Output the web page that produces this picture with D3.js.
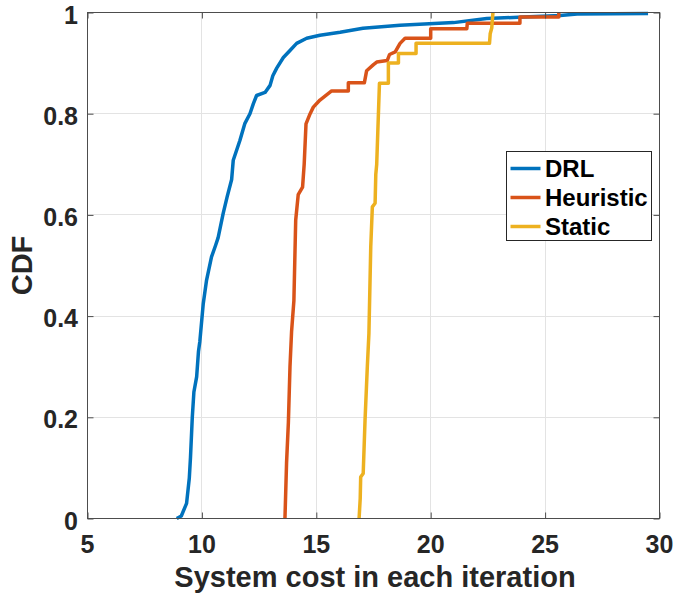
<!doctype html>
<html>

<head>
  <meta charset="utf-8">
  <title>CDF of system cost</title>
  <style>
    body {
      margin: 0;
      background: #fff;
    }
    #chart text {
      font-family: "Liberation Sans", Arial, sans-serif;
      font-weight: bold;
      fill: #262626;
    }
  </style>
</head>

<body>
  <div id="chart"></div>
  <script src="https://cdn.jsdelivr.net/npm/d3@7"></script>
  <script>
    // [cost, cdf] points
    const drl = [
      [8.9, 0], [9.1, 0.005], [9.33, 0.03], [9.45, 0.08], [9.5, 0.12], [9.58, 0.2],
      [9.65, 0.25], [9.77, 0.28], [9.85, 0.33], [9.91, 0.35], [10.06, 0.425], [10.2, 0.47],
      [10.42, 0.517], [10.6, 0.54], [10.71, 0.555], [10.93, 0.603], [11.1, 0.635], [11.3, 0.67],
      [11.37, 0.708], [11.66, 0.747], [11.88, 0.781], [12.1, 0.8], [12.25, 0.82], [12.39, 0.836],
      [12.76, 0.842], [12.98, 0.856], [13.1, 0.875], [13.27, 0.89], [13.56, 0.911], [13.85, 0.925],
      [14.14, 0.939], [14.58, 0.949], [15.16, 0.955], [16.04, 0.961], [17.04, 0.969], [18.66, 0.975],
      [21.0, 0.98], [22.45, 0.988], [24.05, 0.991], [25.66, 0.994], [26.4, 0.997], [29.5, 0.998]
    ];
    const heuristic = [
      [13.63, 0], [13.7, 0.11], [13.78, 0.19], [13.85, 0.3], [13.92, 0.37], [14.02, 0.43],
      [14.08, 0.55], [14.1, 0.59], [14.21, 0.64], [14.4, 0.655], [14.47, 0.7], [14.55, 0.78],
      [14.73, 0.8], [14.87, 0.813], [15.16, 0.827], [15.67, 0.845], [16.4, 0.845], [16.4, 0.861],
      [17.1, 0.861], [17.2, 0.885], [17.5, 0.897], [17.64, 0.902], [18.1, 0.905], [18.2, 0.917],
      [18.45, 0.922], [18.66, 0.939], [18.88, 0.949], [20.0, 0.949], [20.0, 0.968], [21.58, 0.968],
      [21.6, 0.979], [23.9, 0.979], [23.9, 0.991], [25.6, 0.991], [25.6, 1.0]
    ];
    const staticCost = [
      [16.87, 0], [16.92, 0.04], [16.94, 0.082], [17.05, 0.089], [17.13, 0.194], [17.23, 0.3],
      [17.3, 0.366], [17.38, 0.537], [17.45, 0.616], [17.57, 0.623], [17.6, 0.68], [17.64, 0.7],
      [17.76, 0.86], [18.15, 0.86], [18.15, 0.9], [18.59, 0.9], [18.59, 0.919], [19.36, 0.919],
      [19.36, 0.939], [22.57, 0.939], [22.6, 0.958], [22.67, 0.97], [22.72, 1.0]
    ];
    const seriesNames = ['DRL', 'Heuristic', 'Static'];
    const seriesColors = ['#0072bd', '#d95319', '#edb120'];
    const xTicks = [5, 10, 15, 20, 25, 30];
    const yTicks = [0, 0.2, 0.4, 0.6, 0.8, 1];

    const series = [drl, heuristic, staticCost];

    const width = 673;
    const height = 595;
    const margin = { top: 12.5, right: 13.5, bottom: 76.5, left: 87.5 };
    const innerW = width - margin.left - margin.right;
    const innerH = height - margin.top - margin.bottom;

    const svg = d3.select('#chart').append('svg')
      .attr('width', width)
      .attr('height', height);

    const g = svg.append('g')
      .attr('transform', `translate(${margin.left},${margin.top})`);

    const x = d3.scaleLinear().domain([5, 30]).range([0, innerW]);
    const y = d3.scaleLinear().domain([0, 1]).range([innerH, 0]);

    // grid
    g.append('g').selectAll('line').data(xTicks.slice(1, -1)).join('line')
      .attr('x1', d => Math.round(x(d))).attr('x2', d => Math.round(x(d)))
      .attr('y1', 0).attr('y2', innerH)
      .attr('stroke', '#e3e3e3');
    g.append('g').selectAll('line').data(yTicks.slice(1, -1)).join('line')
      .attr('y1', d => Math.round(y(d))).attr('y2', d => Math.round(y(d)))
      .attr('x1', 0).attr('x2', innerW)
      .attr('stroke', '#e3e3e3');

    // curves
    const line = d3.line().x(d => x(d[0])).y(d => y(d[1]));
    g.append('g').selectAll('path').data(series).join('path')
      .attr('d', line)
      .attr('fill', 'none')
      .attr('stroke', (d, i) => seriesColors[i])
      .attr('stroke-width', 3.5)
      .attr('stroke-linejoin', 'round');

    // axes, ticks inside on all four sides
    const tickLen = 6;
    const axisColor = '#4d4d4d';
    const styleAxis = sel => {
      sel.select('.domain').remove();
      sel.selectAll('.tick line').attr('stroke', axisColor);
    };
    g.append('g').attr('transform', `translate(0,${innerH})`)
      .call(d3.axisBottom(x).tickValues(xTicks).tickSizeInner(-tickLen).tickSizeOuter(0).tickFormat(''))
      .call(styleAxis);
    g.append('g')
      .call(d3.axisTop(x).tickValues(xTicks).tickSizeInner(-tickLen).tickSizeOuter(0).tickFormat(''))
      .call(styleAxis);
    g.append('g')
      .call(d3.axisLeft(y).tickValues(yTicks).tickSizeInner(-tickLen).tickSizeOuter(0).tickFormat(''))
      .call(styleAxis);
    g.append('g').attr('transform', `translate(${innerW},0)`)
      .call(d3.axisRight(y).tickValues(yTicks).tickSizeInner(-tickLen).tickSizeOuter(0).tickFormat(''))
      .call(styleAxis);

    g.append('rect')
      .attr('width', innerW).attr('height', innerH)
      .attr('fill', 'none').attr('stroke', axisColor);

    // tick labels
    g.append('g').selectAll('text').data(xTicks).join('text')
      .attr('x', d => x(d)).attr('y', innerH + 34)
      .attr('text-anchor', 'middle')
      .style('font-size', '25px')
      .text(d => d);
    g.append('g').selectAll('text').data(yTicks).join('text')
      .attr('x', -9.5).attr('y', d => y(d) + 11)
      .attr('text-anchor', 'end')
      .style('font-size', '25px')
      .text(d => d3.format('~g')(d));

    // axis titles
    svg.append('text')
      .attr('x', margin.left + innerW / 2 + 1.5).attr('y', 586.5)
      .attr('text-anchor', 'middle')
      .style('font-size', '29px')
      .text('System cost in each iteration');
    svg.append('text')
      .attr('transform', `translate(31.5,${margin.top + innerH / 2}) rotate(-90)`)
      .attr('text-anchor', 'middle')
      .style('font-size', '29px')
      .text('CDF');

    // legend
    const legend = svg.append('g').attr('transform', 'translate(506.5,151.5)');
    legend.append('rect')
      .attr('width', 145).attr('height', 89)
      .attr('fill', '#fff').attr('stroke', '#262626');
    const rows = legend.selectAll('g').data(seriesNames).join('g')
      .attr('transform', (d, i) => `translate(0,${17 + i * 29})`);
    rows.append('line')
      .attr('x1', 4).attr('x2', 34)
      .attr('stroke', (d, i) => seriesColors[i])
      .attr('stroke-width', 3.5);
    rows.append('text')
      .attr('x', 38.5).attr('y', 8.5)
      .style('font-size', '24px')
      .style('fill', '#000')
      .text(d => d);
  </script>
</body>

</html>
